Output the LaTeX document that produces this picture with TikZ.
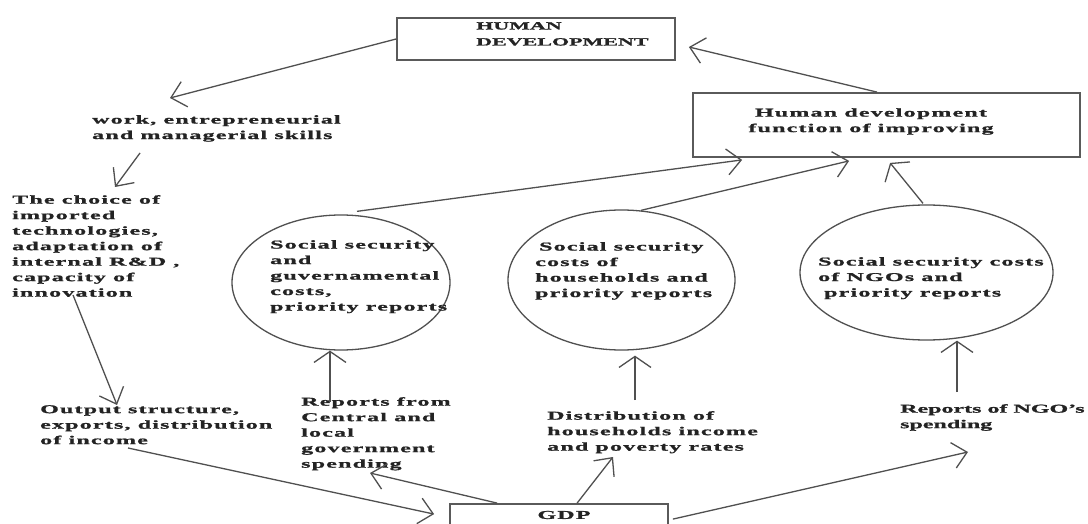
\documentclass[tikz,border=0pt]{standalone}
\usepackage{fontspec}
\setmainfont{Liberation Serif}[FakeStretch=2.0, LetterSpace=10, FakeBold=1.2]
\usetikzlibrary{shapes.geometric, arrows.meta, calc}
\definecolor{ink}{RGB}{35,35,35}
\definecolor{linec}{RGB}{80,80,80}
\definecolor{boxc}{RGB}{90,90,90}
\begin{document}
\begin{tikzpicture}[x=1pt,y=-1pt,
  txt/.style={anchor=north west, inner sep=0pt, align=left, text=ink,
    font=\bfseries\fontsize{12}{15.5}\selectfont},
  ctxt/.style={txt, anchor=center, align=center},
  boxn/.style={draw=boxc, line width=1.8pt, rectangle, inner sep=0pt},
  ell/.style={draw=linec, line width=1.3pt, ellipse, inner sep=0pt},
  arr/.style={draw=linec, line width=1.3pt, -{Straight Barb[length=14pt, width=26pt, line width=1.3pt]}},
  arrw/.style={draw=linec, line width=1.3pt, -{Straight Barb[length=11pt, width=32pt, line width=1.3pt]}}]
\useasboundingbox (0,0) rectangle (1088,524);
\clip (0,0) rectangle (1088,524);
\fill[white] (0,0) rectangle (1088,524);

% boxes
\node[boxn, minimum width=278pt, minimum height=42pt] (hdbox) at (536,39) {};
\node[txt, font=\bfseries\fontsize{11}{16}\selectfont\addfontfeatures{LetterSpace=0}] (hdtext) at (476,22) {HUMAN\\DEVELOPMENT};
\node[boxn, minimum width=387pt, minimum height=64pt] (hdfbox) at (886.5,125) {};
\node[ctxt] (hdftext) at (871,121.5) {Human development\\function of improving};
\node[boxn, minimum width=218pt, minimum height=52pt] (gdpbox) at (559,530) {};
\node[ctxt] (gdptext) at (564,515) {GDP};

% ellipses
\node[ell, minimum width=218pt, minimum height=135pt] (c1) at (341,282.5) {};
\node[ell, minimum width=227pt, minimum height=140pt] (c2) at (621.5,280) {};
\node[ell, minimum width=253pt, minimum height=135pt] (c3) at (926.5,272.5) {};
\node[txt] (c1text) at (270,240) {Social security\\and\\guvernamental\\costs,\\priority reports};
\node[txt] (c2text) at (535,242) {\hspace*{4pt}Social security\\costs of\\households and\\priority reports};
\node[txt] (c3text) at (818,257) {Social security costs\\of NGOs and\\\hspace*{6pt}priority reports};

% free texts
\node[txt] (work) at (92,115) {work, entrepreneurial\\and managerial skills};
\node[txt] (choice) at (12,195) {The choice of\\imported\\technologies,\\adaptation of\\internal R\&D ,\\capacity of\\innovation};
\node[txt] (output) at (40,405) {Output structure,\\exports, distribution\\of income};
\node[txt] (central) at (301,397) {Reports from\\Central and\\local\\government\\spending};
\node[txt] (distrib) at (547,411) {Distribution of\\households income\\and poverty rates};
\node[txt, font=\bfseries\fontsize{12}{15.5}\selectfont\addfontfeatures{LetterSpace=0}] (ngo) at (900,404) {Reports of NGO's\\spending};

% connectors
\draw[arr] ($(hdfbox.north)+(-9.5,0)$) -- ($(hdbox.east)+(13,8)$);
\draw[arr] (hdbox.west) -- ($(work.north west)+(78,-17)$);
\draw[arr] ($(work.north west)+(48,38)$) -- ($(choice.north west)+(103,-8)$);
\draw[arr] ($(choice.north west)+(61,100)$) -- ($(output.north west)+(77,0)$);
\draw[arr] ($(output.north west)+(88,43)$) -- ($(gdpbox.north west)+(-15,11)$);
\draw[arr] ($(gdpbox.north west)+(48,0)$) -- ($(central.north west)+(69,76)$);
\draw[arr] ($(gdpbox.north west)+(128,0)$) -- ($(distrib.north west)+(66,46)$);
\draw[arr] ($(gdpbox.north east)+(4,16)$) -- ($(ngo.north west)+(68,48)$);
\draw[arrw] ($(central.north west)+(29,5)$) -- ($(c1.south)+(-11,0)$);
\draw[arrw] ($(distrib.north west)+(88,-11)$) -- ($(c2.south)+(13.5,5)$);
\draw[arrw] ($(ngo.north west)+(57,-12)$) -- ($(c3.south)+(30.5,0)$);
\draw[arr] ($(c1.north)+(16,-3)$) -- ($(hdfbox.south west)+(50,2)$);
\draw[arr] ($(c2.north)+(19.5,1)$) -- ($(hdfbox.south west)+(157,3)$);
\draw[arrw] ($(c3.north)+(-3.5,-1)$) -- ($(hdfbox.south west)+(198,5)$);
\end{tikzpicture}
\end{document}
